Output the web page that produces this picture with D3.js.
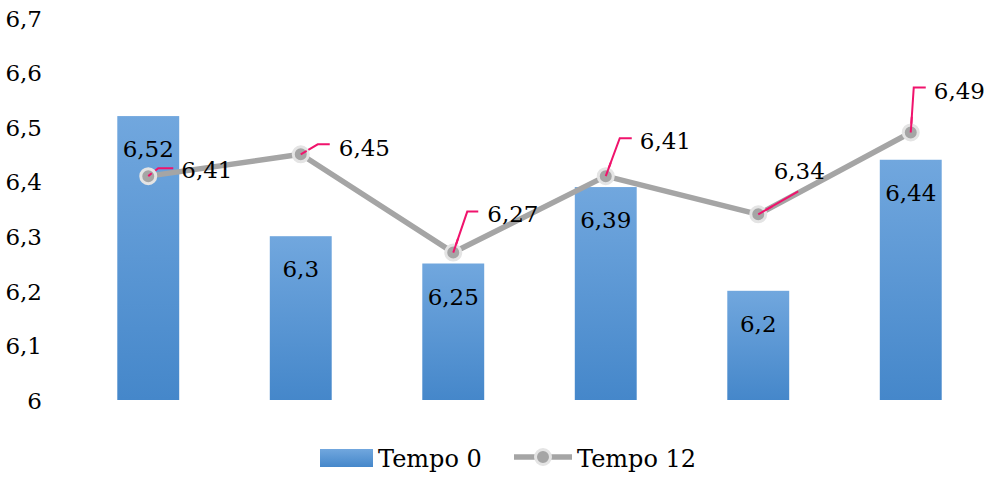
<!DOCTYPE html>
<html>
<head>
<meta charset="utf-8">
<script src="https://cdn.jsdelivr.net/npm/d3@7"></script>
<style>
  html, body { margin: 0; padding: 0; background: #fff; }
  svg { display: block; }
</style>
</head>
<body>
<svg id="chart" width="987" height="477" font-family="'DejaVu Serif', serif"></svg>
<script>
// Chart data
const categories = ["A", "B", "C", "D", "E", "F"];
const tempo0 = [6.52, 6.30, 6.25, 6.39, 6.20, 6.44];
const tempo12 = [6.41, 6.45, 6.27, 6.41, 6.34, 6.49];
const yTicks = [6.0, 6.1, 6.2, 6.3, 6.4, 6.5, 6.6, 6.7];
const seriesNames = ["Tempo 0", "Tempo 12"];

// Callout leaders for the Tempo 12 labels, relative to each point:
// elbow, leader end, text anchor x/center y, text alignment
const callouts = [
  { ex: 10, ey: -8,  lx: 25, ly: -8,  tx: 33, ty: -6,  anchor: "start" },
  { ex: 17, ey: -10, lx: 29, ly: -10, tx: 38, ty: -7,  anchor: "start" },
  { ex: 14, ey: -41, lx: 25, ly: -41, tx: 34, ty: -39, anchor: "start" },
  { ex: 14, ey: -38, lx: 26, ly: -38, tx: 34, ty: -35, anchor: "start" },
  { ex: 40, ey: -23, lx: 40, ly: -23, tx: 41, ty: -44, anchor: "middle" },
  { ex: 3,  ey: -45, lx: 15, ly: -45, tx: 23, ty: -42, anchor: "start" }
];

const fmt = v => String(+v.toFixed(2)).replace(".", ",");
const FS = 23;        // numeric labels
const FS_LEG = 24;    // legend entries
const halfDigit = FS * 0.36;

const svg = d3.select("#chart");
const x = d3.scaleBand().domain(categories).range([72, 987]).paddingInner(0.594).paddingOuter(0.297);
const y = d3.scaleLinear().domain([6, 6.7]).range([400, 17.8]);

// Gradient for the bars
const defs = svg.append("defs");
const grad = defs.append("linearGradient").attr("id", "barGrad")
  .attr("x1", 0).attr("y1", 0).attr("x2", 0).attr("y2", 1);
grad.append("stop").attr("offset", "0%").attr("stop-color", "#71a7de");
grad.append("stop").attr("offset", "100%").attr("stop-color", "#4587ca");

// Y axis (labels only)
const yAxis = d3.axisLeft(y).tickValues(yTicks).tickSize(0).tickPadding(0)
  .tickFormat(d => fmt(d));
const gy = svg.append("g").attr("transform", "translate(42,0)").call(yAxis);
gy.attr("font-family", null).attr("font-size", FS);
gy.select(".domain").remove();
gy.selectAll("text").attr("fill", "#000").attr("dy", "0.36em");

// Bars
svg.append("g").selectAll("rect").data(tempo0).join("rect")
  .attr("x", (d, i) => x(categories[i]))
  .attr("width", x.bandwidth())
  .attr("y", d => y(d))
  .attr("height", d => y(6) - y(d))
  .attr("fill", "url(#barGrad)");

// Bar value labels
svg.append("g").attr("font-size", FS).selectAll("text").data(tempo0).join("text")
  .attr("x", (d, i) => x(categories[i]) + x.bandwidth() / 2)
  .attr("y", d => y(d) + 33 + halfDigit)
  .attr("text-anchor", "middle")
  .text(d => fmt(d));

// Tempo 12 line
const cx = i => x(categories[i]) + x.bandwidth() / 2;
const line = d3.line().x((d, i) => cx(i)).y(d => y(d));
svg.append("path").datum(tempo12)
  .attr("d", line)
  .attr("fill", "none")
  .attr("stroke", "#a5a5a5")
  .attr("stroke-width", 5.5)
  .attr("stroke-linejoin", "round");

// Leader lines
svg.append("g").selectAll("path").data(tempo12).join("path")
  .attr("d", (d, i) => {
    const c = callouts[i], px = cx(i), py = y(d);
    return `M${px},${py}L${px + c.ex},${py + c.ey}L${px + c.lx},${py + c.ly}`;
  })
  .attr("fill", "none")
  .attr("stroke", "#f0136c")
  .attr("stroke-width", 2);

// Markers
svg.append("g").selectAll("circle").data(tempo12).join("circle")
  .attr("cx", (d, i) => cx(i))
  .attr("cy", d => y(d))
  .attr("r", 7.5)
  .attr("fill", "#a5a5a5")
  .attr("stroke", "#e4e4e4")
  .attr("stroke-width", 3);

// Redraw the leaders' starting ends on top of the markers
svg.append("g").selectAll("line").data(tempo12).join("line")
  .attr("x1", (d, i) => cx(i))
  .attr("y1", d => y(d))
  .attr("x2", (d, i) => cx(i) + callouts[i].ex * 0.35)
  .attr("y2", (d, i) => y(d) + callouts[i].ey * 0.35)
  .attr("stroke", "#f0136c")
  .attr("stroke-width", 2);

// Line value labels
svg.append("g").attr("font-size", FS).selectAll("text").data(tempo12).join("text")
  .attr("x", (d, i) => cx(i) + callouts[i].tx)
  .attr("y", (d, i) => y(d) + callouts[i].ty + halfDigit)
  .attr("text-anchor", (d, i) => callouts[i].anchor)
  .text(d => fmt(d));

// Legend
const lg = svg.append("g").attr("font-size", FS_LEG);
lg.append("rect").attr("x", 320).attr("y", 449).attr("width", 53).attr("height", 18)
  .attr("fill", "url(#barGrad)");
lg.append("text").attr("x", 378).attr("y", 467).text(seriesNames[0]);
lg.append("line").attr("x1", 514).attr("x2", 572).attr("y1", 457).attr("y2", 457)
  .attr("stroke", "#a5a5a5").attr("stroke-width", 5.5);
lg.append("circle").attr("cx", 543).attr("cy", 457).attr("r", 7.5)
  .attr("fill", "#a5a5a5").attr("stroke", "#e4e4e4").attr("stroke-width", 3);
lg.append("text").attr("x", 577).attr("y", 467).text(seriesNames[1]);
</script>
</body>
</html>
